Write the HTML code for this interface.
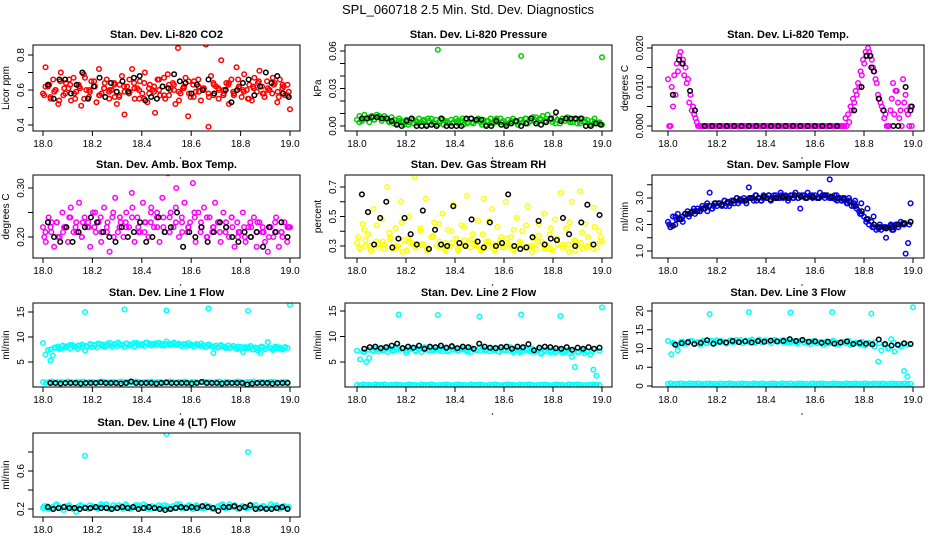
<!DOCTYPE html>
<html><head><meta charset="utf-8"><style>
body{margin:0;background:#fff;}
svg{display:block;font-family:"Liberation Sans",Arial,sans-serif;}
</style></head><body>
<svg id="c" width="936" height="540" xmlns="http://www.w3.org/2000/svg">
<text x="468" y="14" text-anchor="middle" font-size="13">SPL_060718  2.5 Min. Std. Dev. Diagnostics</text>
</svg>
<script>
// ---- data ----
const xTicks=[18.0,18.2,18.4,18.6,18.8,19.0];
const co2Red=[0.58,0.73,0.62,0.55,0.66,0.60,0.52,0.70,0.57,0.64,0.61,0.54,0.67,0.59,0.63,0.51,0.69,0.60,0.56,0.65,0.62,0.53,0.72,0.58,0.61,0.66,0.55,0.60,0.64,0.52,0.57,0.68,0.46,0.62,0.59,0.72,0.55,0.61,0.65,0.58,0.70,0.53,0.63,0.60,0.47,0.66,0.57,0.62,0.55,0.69,0.60,0.64,0.52,0.84,0.58,0.61,0.67,0.45,0.56,0.63,0.59,0.66,0.54,0.61,0.86,0.39,0.68,0.57,0.62,0.55,0.77,0.60,0.64,0.52,0.66,0.58,0.73,0.61,0.56,0.69,0.60,0.63,0.54,0.67,0.59,0.71,0.62,0.56,0.65,0.60,0.58,0.64,0.53,0.66,0.61,0.57,0.63,0.49];
const co2Red2=[0.62,0.56,0.60,0.65,0.58,0.63,0.55,0.61,0.67,0.59,0.62,0.57,0.64,0.60,0.56,0.63,0.59,0.66,0.61,0.55,0.64,0.58,0.62,0.60,0.67,0.57,0.63,0.59,0.61,0.65,0.56,0.62,0.60,0.58,0.64,0.61,0.57,0.63,0.59,0.66,0.60,0.55,0.62,0.64,0.58,0.61,0.67,0.59,0.63,0.57];
const co2Red3=[0.57,0.63,0.59,0.54,0.61,0.66,0.58,0.62,0.55,0.60,0.65,0.57,0.61,0.59,0.63,0.56,0.62,0.58,0.64,0.60,0.55,0.61,0.59,0.66,0.57,0.63,0.60,0.54,0.62,0.58,0.65,0.59,0.61,0.56,0.63,0.60,0.58,0.64,0.57,0.62,0.59,0.55,0.61,0.65,0.58,0.60,0.63,0.56,0.62,0.59];
const co2Black=[0.63,0.55,0.66,0.66,0.58,0.63,0.70,0.55,0.62,0.67,0.56,0.64,0.59,0.65,0.59,0.67,0.68,0.54,0.56,0.55,0.62,0.61,0.69,0.65,0.64,0.58,0.63,0.60,0.66,0.58,0.88,0.60,0.53,0.60,0.64,0.66,0.57,0.62,0.70,0.64,0.68,0.58,0.56];
const presGreen=[0.005,0.008,0.004,0.009,0.006,0.003,0.008,0.005,0.009,0.007,0.004,0.008,0.006,0.003,0.007,0.005,0.002,0.006,0.004,0.001,0.005,0.003,0.006,0.002,0.004,0.006,0.003,0.005,0.001,0.004,0.006,0.002,0.005,0.003,0.006,0.001,0.004,0.002,0.005,0.003,0.006,0.002,0.004,0.001,0.005,0.003,0.006,0.002,0.004,0.006,0.003,0.005,0.001,0.004,0.006,0.002,0.005,0.003,0.006,0.004,0.002,0.005,0.003,0.006,0.004,0.001,0.005,0.003,0.006,0.002,0.004,0.007,0.005,0.003,0.006,0.008,0.004,0.009,0.006,0.003,0.007,0.005,0.002,0.006,0.004,0.007,0.005,0.003,0.006,0.002,0.004,0.006,0.003,0.005,0.001,0.004,0.006,0.002,0.003,0.001];
const presGreen2=[0.003,0.006,0.007,0.005,0.008,0.006,0.004,0.002,0.004,0.003,0.001,0.005,0.002,0.004,0.006,0.003,0.001,0.005,0.003,0.002,0.004,0.006,0.002,0.003,0.005,0.001,0.004,0.002,0.006,0.003,0.001,0.004,0.003,0.005,0.006,0.004,0.007,0.005,0.003,0.005,0.002,0.004,0.006,0.003,0.005,0.002,0.004,0.001,0.003,0.002];
const presOutX=[18.33,18.67,19.0];
const presOutY=[0.061,0.056,0.055];
const presBlack=[0.006,0.006,0.007,0.007,0.006,0.006,0.004,0.001,0.000,0.004,0.006,0.000,0.000,0.000,0.001,0.000,0.006,0.000,0.000,0.000,0.000,0.006,0.006,0.005,0.005,0.000,0.000,0.004,0.001,0.000,0.002,0.004,0.000,0.002,0.006,0.002,0.001,0.003,0.006,0.011,0.004,0.006,0.006,0.006,0.006,0.000,0.000,0.002,0.001];
const tempMag=[0.012,0.000,0.005,0.008,0.014,0.019,0.017,0.015,0.012,0.008,0.005,0.002,
0,0,0,0,0,0,0,0,0,0,0,0,0,0,0,0,0,0,0,0,0,0,0,0,0,0,0,0,0,0,0,0,0,0,0,0,0,0,0,0,0,0,0,0,0,0,0,0,0,0,0,0,0,0,0,0,0,0,0,
0.002,0.003,0.005,0.007,0.009,0.011,0.014,0.017,0.019,0.020,0.018,0.015,0.012,0.008,0.006,0.004,0.003,0.000,0.004,0.011,0.009,0.006,0.004,0.012,0.008,0.003,0.005];
const tempMag2=[0.000,0.010,0.013,0.016,0.018,0.016,0.013,0.011,0.006,0.004,0.003,0.001,0,0,0,0,0,0,0,0,0,0,0,0,0,0,0,0,0,0,0,0,0,0,0,0,0,0,0,0,0,0,0,0,0,0,0,0,0,0,0,0,0,0,0,0,0,0,0,0,0,0,0,0,0,0,0,0,0,0,0,0,0.001,0.004,0.006,0.008,0.010,0.013,0.016,0.018,0.019,0.017,0.014,0.011,0.007,0.005,0.002,0.000,0.000,0.007,0.003,0.009,0.002,0.000,0.006,0.004,0.000,0.000];
const tempBlackX=[18.02,18.045,18.06,18.09,18.11,18.15,18.18,18.21,18.24,18.27,18.30,18.33,18.36,18.39,18.42,18.45,18.48,18.51,18.54,18.57,18.60,18.63,18.66,18.69,18.76,18.79,18.81,18.825,18.83,18.84,18.86,18.88,18.92,18.94,18.97,18.99,18.995];
const tempBlackY=[0.008,0.017,0.016,0.009,0.004,0,0,0,0,0,0,0,0,0,0,0,0,0,0,0,0,0,0,0,0.004,0.010,0.018,0.018,0.015,0.014,0.007,0.004,0,0,0.010,0.004,0.005];
const ambMag=[0.22,0.19,0.24,0.21,0.18,0.23,0.20,0.25,0.22,0.19,0.26,0.21,0.23,0.27,0.20,0.24,0.22,0.18,0.25,0.21,0.23,0.19,0.26,0.22,0.17,0.24,0.28,0.21,0.23,0.20,0.25,0.22,0.29,0.19,0.24,0.21,0.27,0.23,0.20,0.26,0.22,0.24,0.19,0.28,0.21,0.33,0.25,0.22,0.30,0.20,0.24,0.27,0.21,0.23,0.31,0.19,0.25,0.22,0.26,0.20,0.24,0.21,0.27,0.23,0.19,0.25,0.22,0.20,0.24,0.18,0.23,0.21,0.25,0.19,0.22,0.20,0.24,0.18,0.23,0.21,0.19,0.17,0.22,0.20,0.24,0.18,0.21,0.23,0.19,0.22];
const ambMag2=[0.21,0.23,0.20,0.22,0.24,0.21,0.23,0.22,0.25,0.21,0.23,0.20,0.24,0.22,0.26,0.21,0.23,0.25,0.22,0.24,0.21,0.26,0.23,0.22,0.25,0.21,0.24,0.22,0.23,0.21,0.24,0.20,0.22,0.23,0.21,0.22,0.20,0.23,0.21,0.22];
const ambMag3=[0.20,0.22,0.23,0.21,0.24,0.22,0.20,0.23,0.22,0.24,0.21,0.25,0.22,0.23,0.24,0.22,0.21,0.23,0.25,0.22,0.24,0.23,0.21,0.22,0.24,0.23,0.20,0.22,0.21,0.23,0.22,0.21,0.20,0.22,0.23,0.21,0.22,0.21,0.20,0.22];
const ambBlack=[0.23,0.20,0.19,0.22,0.19,0.21,0.22,0.24,0.23,0.21,0.20,0.19,0.22,0.20,0.21,0.23,0.19,0.20,0.24,0.21,0.22,0.25,0.18,0.21,0.20,0.22,0.19,0.21,0.23,0.22,0.20,0.19,0.21,0.20,0.21,0.18,0.22,0.21,0.23,0.20];
const rhYellow=[0.32,0.28,0.45,0.30,0.38,0.27,0.55,0.33,0.29,0.48,0.31,0.70,0.36,0.28,0.42,0.30,0.60,0.34,0.27,0.50,0.32,0.77,0.29,0.40,0.31,0.62,0.28,0.36,0.46,0.30,0.33,0.52,0.27,0.41,0.30,0.58,0.35,0.28,0.44,0.31,0.64,0.29,0.38,0.32,0.47,0.27,0.62,0.33,0.30,0.55,0.28,0.43,0.34,0.29,0.60,0.31,0.36,0.27,0.49,0.32,0.40,0.29,0.57,0.30,0.35,0.28,0.45,0.33,0.52,0.30,0.38,0.27,0.48,0.31,0.66,0.29,0.42,0.26,0.60,0.34,0.30,0.67,0.28,0.45,0.36,0.31,0.56,0.29,0.40,0.33];
const rhYellow2=[0.29,0.34,0.27,0.31,0.28,0.35,0.30,0.26,0.33,0.29,0.31,0.27,0.36,0.30,0.28,0.32,0.27,0.34,0.29,0.31,0.28,0.33,0.27,0.30,0.35,0.28,0.31,0.29,0.26,0.33,0.30,0.28,0.34,0.29,0.31,0.27,0.32,0.30,0.28,0.33];
const rhYellow3=[0.36,0.41,0.30,0.44,0.33,0.39,0.28,0.46,0.35,0.31,0.42,0.29,0.37,0.45,0.32,0.40,0.28,0.43,0.34,0.30,0.38,0.47,0.31,0.36,0.29,0.41,0.33,0.44,0.30,0.37,0.28,0.42,0.35,0.31,0.46,0.33,0.39,0.29,0.43,0.36];
const rhBlack=[0.65,0.53,0.31,0.49,0.60,0.29,0.35,0.49,0.38,0.31,0.54,0.28,0.41,0.31,0.30,0.57,0.32,0.30,0.48,0.33,0.29,0.46,0.30,0.32,0.65,0.30,0.28,0.29,0.36,0.47,0.31,0.35,0.34,0.49,0.38,0.30,0.46,0.58,0.31,0.51];
const flowBlue=[2.1,1.9,2.3,2.0,2.4,2.2,2.3,2.4,2.5,2.4,2.5,2.4,2.6,2.5,2.7,2.6,2.8,3.2,2.6,2.8,2.7,2.8,2.7,2.9,2.8,2.7,2.9,2.8,3.0,2.9,2.9,3.0,2.8,3.4,3.0,2.9,3.1,3.0,2.9,3.1,3.0,3.1,2.9,3.0,3.1,3.0,3.2,3.0,3.1,2.9,3.1,3.0,3.2,3.0,2.6,3.1,3.0,3.2,3.1,3.0,3.1,3.0,3.2,3.1,3.0,3.1,3.7,3.0,3.1,2.9,3.0,2.9,3.0,2.8,2.9,2.7,2.8,2.6,2.5,2.4,2.3,2.2,2.0,2.1,1.9,1.8,1.9,1.8,1.9,1.5,1.9,2.0,1.8,2.0,1.9,2.1,2.0,0.9,1.3,2.8];
const flowBlue2=[1.9,2.2,2.1,2.3,2.5,2.6,2.5,2.7,2.8,2.7,2.9,2.8,2.9,3.0,2.9,3.0,3.1,3.0,3.1,3.0,3.0,3.1,3.0,3.1,3.0,3.1,3.0,3.1,3.0,3.0,2.9,2.8,2.6,2.3,2.0,1.9,1.8,1.9,2.0,2.1];
const flowBlue3=[2.0,2.3,2.2,2.4,2.6,2.5,2.7,2.6,2.8,2.9,2.8,3.0,2.9,3.0,3.1,2.9,3.0,3.1,3.0,3.05,3.1,3.0,3.1,3.05,3.0,3.1,3.0,2.95,2.9,2.8,2.7,2.4,2.1,1.9,1.85,1.9,1.95,2.0,2.05,2.0];
const flowBlack=[1.95,2.2,2.4,2.45,2.5,2.6,2.7,2.8,2.75,2.85,2.9,2.95,2.9,3.0,3.0,3.05,2.95,3.0,3.05,3.0,3.1,3.05,3.0,3.05,3.0,3.1,3.05,3.0,2.95,2.85,2.7,2.5,2.2,2.0,1.9,1.85,1.9,2.0,2.05,2.1];
const l1Cyan=[8.8,6.5,7.4,5.3,6.3,7.8,8.1,7.6,8.3,7.9,8.2,7.7,8.4,8.0,7.6,8.3,7.9,7.3,8.1,8.5,8.0,8.3,7.9,8.6,8.2,8.0,8.7,8.3,8.1,8.5,8.2,8.6,8.4,8.0,8.7,8.3,8.5,8.1,8.8,8.4,8.6,8.2,8.9,8.5,8.3,8.7,8.4,8.8,8.6,8.3,9.1,8.7,8.5,8.9,8.4,8.7,8.3,8.6,8.2,8.8,8.5,8.1,8.6,8.3,8.7,8.4,8.0,8.5,8.2,6.8,8.3,7.9,8.4,8.1,7.8,8.3,7.9,8.2,7.7,8.1,7.6,7.0,8.0,7.7,8.2,7.5,7.9,7.3,6.8,8.0,7.6,9.0,7.8,7.4,8.1,7.7,7.9,7.5,8.0,7.8];
const l1Cyan2=[7.5,7.9,7.7,8.2,8.0,8.4,8.1,8.3,8.5,8.2,8.6,8.4,8.7,8.5,8.3,8.8,8.6,8.9,8.4,8.7,8.5,8.8,8.6,8.4,8.9,8.7,8.5,8.8,8.3,8.6,8.4,8.7,8.5,8.2,8.6,8.3,8.1,8.5,8.2,8.0,8.4,8.1,7.9,8.3,8.0,7.8,8.2,7.6,8.0,7.7,7.9,7.5,7.8,8.1,7.6,7.9,7.7,8.0,7.6,7.9];
const l1OutX=[18.17,18.33,18.5,18.67,18.83,19.0];
const l1OutY=[15.0,15.5,15.3,15.7,15.2,16.4];
const l1Low=[1.0,0.9,1.0,1.1,0.9,1.0,1.0,0.9,1.1,1.0,0.9,1.0,1.0,1.1,0.9,1.0,1.0,0.9,1.0,1.1,1.0,0.9,1.0,1.0,0.9,1.1,1.0,1.0,0.9,1.0,1.1,1.0,0.9,1.0,1.0,1.1,0.9,1.0,1.0,0.9,1.0,1.1,1.0,0.9,1.0,1.0,1.1,0.9,1.0,1.0,0.9,1.0,1.1,1.0,1.0,0.9,1.0,1.1,0.9,1.0,1.0,0.9,1.0,1.1,1.0,0.9,1.0,1.0,1.1,0.9,1.0,1.0,0.9,1.0,1.1,1.0,0.9,1.0,1.0,1.0];
const l1Black=[0.8,0.8,0.7,0.8,0.8,0.8,0.7,0.8,0.8,0.8,0.9,0.8,0.8,0.8,0.7,0.8,1.1,0.8,0.8,0.8,0.8,0.7,0.8,0.9,0.8,0.8,0.8,0.8,0.7,0.8,1.0,0.8,0.8,0.8,0.7,0.8,0.8,0.8,0.8,0.5,0.7,0.8,0.8,0.8,0.7,0.8,0.8,0.8];
const l2Cyan=[7.2,5.5,7.0,5.0,5.8,7.3,7.6,7.1,7.8,7.4,7.0,7.6,7.2,7.9,7.4,7.7,6.8,7.5,7.8,7.3,7.6,7.0,7.9,7.4,7.7,7.2,7.5,7.8,7.1,7.6,7.3,7.9,7.5,7.2,7.7,7.4,7.0,7.8,7.5,7.3,7.9,7.6,7.2,7.7,7.4,7.8,7.1,7.5,7.3,7.6,7.9,7.2,7.5,6.9,7.7,7.4,7.2,7.6,7.0,7.5,6.6,7.3,7.6,6.9,7.4,7.1,7.5,6.8,7.2,7.4,6.0,4.0,7.0,7.3,6.7,7.1,6.5,3.5,2.3,7.2];
const l2Cyan2=[7.0,7.4,7.1,7.5,7.3,7.6,7.2,7.4,7.7,7.3,7.5,7.1,7.6,7.4,7.2,7.5,7.3,7.6,7.1,7.4,7.2,7.5,7.3,7.0,7.4,7.2,7.5,7.1,7.3,7.0,7.4,7.2,6.9,7.3,7.1,7.4,7.0,7.2,6.8,7.1,7.3,6.9,7.2,7.0,6.8,7.1,6.9,7.2,7.0,7.1];
const l2OutX=[18.17,18.33,18.5,18.67,18.83,19.0];
const l2OutY=[14.3,14.2,13.9,14.3,14.0,15.7];
const l2Low=[0.5,0.4,0.6,0.5,0.5,0.4,0.6,0.5,0.5,0.6,0.4,0.5,0.5,0.6,0.5,0.4,0.5,0.6,0.5,0.5,0.4,0.6,0.5,0.5,0.6,0.5,0.4,0.5,0.5,0.6,0.5,0.4,0.5,0.6,0.5,0.5,0.4,0.6,0.5,0.5,0.6,0.5,0.4,0.5,0.5,0.6,0.5,0.4,0.5,0.6,0.5,0.5,0.4,0.6,0.5,0.5,0.6,0.5,0.4,0.5,0.5,0.6,0.5,0.4,0.5,0.6,0.5,0.5,0.4,0.6,0.5,0.5,0.6,0.5,0.4,0.5,0.5,0.6,0.5,0.5];
const l2Black=[7.6,7.9,8.0,7.7,7.9,8.2,8.6,7.7,8.0,7.8,8.2,7.6,8.0,7.9,8.2,7.8,8.1,7.7,8.0,7.9,7.6,8.6,8.0,7.8,7.7,7.9,8.0,7.6,8.0,7.9,8.5,7.3,7.8,8.0,7.9,7.7,7.6,7.9,7.4,7.8,7.6,7.9,7.6,7.8];
const l3Cyan=[12.0,8.5,11.4,9.5,11.8,11.2,11.6,12.0,11.3,11.7,11.0,12.1,11.5,11.8,11.2,12.2,11.6,11.9,11.3,12.0,11.6,12.3,11.7,11.4,12.1,11.8,12.4,11.5,12.0,11.7,12.2,11.9,11.4,12.3,11.8,12.0,11.5,12.2,11.7,11.9,11.3,12.1,11.6,11.8,11.2,12.0,11.5,11.7,11.0,11.9,11.4,12.1,11.6,11.2,11.8,11.4,12.0,11.1,11.6,11.3,11.8,11.0,11.5,11.2,11.7,6.5,9.5,11.2,10.0,12.5,9.2,11.0,10.5,4.0,2.5,11.2];
const l3Cyan2=[11.5,11.0,11.8,11.3,12.0,11.5,11.9,11.4,12.1,11.7,12.0,11.6,12.2,11.8,12.3,11.9,12.1,11.7,12.4,12.0,11.8,12.2,11.9,12.3,11.7,12.0,11.6,12.1,11.5,11.9,11.4,11.8,11.3,11.7,11.2,11.6,11.4,11.0,11.5,11.1,10.8,11.3,10.5,11.4,11.0,10.2,11.6,10.8,11.2,11.0];
const l3OutX=[18.17,18.33,18.5,18.67,18.83,19.0];
const l3OutY=[19.2,19.7,19.6,19.7,19.3,21.0];
const l3Low=[0.6,0.7,0.5,0.6,0.7,0.6,0.5,0.7,0.6,0.6,0.7,0.5,0.6,0.7,0.6,0.6,0.5,0.7,0.6,0.6,0.7,0.6,0.5,0.6,0.7,0.6,0.6,0.5,0.7,0.6,0.6,0.7,0.5,0.6,0.7,0.6,0.5,0.7,0.6,0.6,0.7,0.5,0.6,0.7,0.6,0.6,0.5,0.7,0.6,0.6,0.7,0.6,0.5,0.6,0.7,0.6,0.6,0.5,0.7,0.6,0.6,0.7,0.5,0.6,0.7,0.6,0.5,0.7,0.6,0.6,0.7,0.5,0.6,0.7,0.6,0.6,0.5,0.7,0.6,0.6];
const l3Black=[11.0,11.4,11.7,11.2,11.5,12.2,11.3,11.8,11.6,12.0,11.7,11.9,11.6,12.0,11.8,12.1,11.9,12.0,12.5,12.0,12.3,11.8,11.9,11.5,11.8,11.3,11.6,11.9,11.2,11.5,11.3,11.1,12.4,11.2,10.8,11.0,11.4,11.2];
const l4Cyan=[0.21,0.23,0.20,0.24,0.22,0.19,0.23,0.21,0.17,0.24,0.22,0.20,0.23,0.21,0.25,0.22,0.20,0.24,0.21,0.23,0.25,0.20,0.22,0.24,0.21,0.23,0.20,0.22,0.24,0.21,0.23,0.20,0.22,0.25,0.21,0.23,0.20,0.24,0.22,0.21,0.23,0.20,0.22,0.24,0.21,0.25,0.22,0.20,0.23,0.21,0.24,0.22,0.20,0.23,0.21,0.25,0.22,0.20,0.23,0.21];
const l4Cyan2=[0.23,0.20,0.22,0.25,0.21,0.23,0.24,0.20,0.22,0.23,0.21,0.24,0.22,0.20,0.23,0.25,0.21,0.22,0.24,0.20,0.23,0.21,0.24,0.22,0.25,0.20,0.23,0.21,0.22,0.24,0.20,0.23,0.25,0.21,0.22,0.24,0.20,0.23,0.21,0.24,0.22,0.20,0.23,0.25,0.21,0.22,0.24,0.20,0.23,0.21,0.22,0.24,0.20,0.23,0.21,0.22,0.24,0.21,0.23,0.22];
const l4OutX=[18.17,18.5,18.83];
const l4OutY=[0.76,0.99,0.80];
const l4Black=[0.22,0.20,0.21,0.22,0.21,0.21,0.20,0.21,0.21,0.22,0.21,0.21,0.20,0.21,0.22,0.21,0.22,0.20,0.21,0.22,0.21,0.20,0.19,0.20,0.21,0.22,0.21,0.22,0.21,0.23,0.22,0.21,0.18,0.22,0.22,0.23,0.21,0.22,0.24,0.20,0.21,0.20,0.20,0.21,0.22,0.20];

// ---- panels ----
const NS="http://www.w3.org/2000/svg";
const svg=document.getElementById('c');
function el(tag,attrs,parent){const e=document.createElementNS(NS,tag);for(const k in attrs)e.setAttribute(k,attrs[k]);(parent||svg).appendChild(e);return e;}
const cols=[{l:33,r:300,x0:43,x1:290},{l:345,r:612,x0:357,x1:602},{l:652,r:924,x0:668,x1:913}];
const rows=[{t:45,b:131},{t:175,b:258},{t:303,b:387},{t:433,b:517}];
function panel(name,title,ylab,ci,ri,v0,p0,v1,p1,ticks,labels,fmt){
  const c=cols[ci],r=rows[ri];
  const g=el('g',{});
  
  
  const X=v=>c.x0+(v-18)*(c.x1-c.x0);
  const Y=v=>p0+(v-v0)*(p1-p0)/(v1-v0);
  const t=el('text',{x:(c.l+c.r)/2,y:r.t-7,'text-anchor':'middle','font-size':'11','font-weight':'bold'},g);
  t.textContent=title;
  
  
  const yl=el('text',{x:0,y:0,'text-anchor':'middle','font-size':'10',transform:`translate(${c.l-24},${(r.t+r.b)/2}) rotate(-90)`},g);
  yl.textContent=ylab;
  
  
  xTicks.forEach(v=>{
    el('line',{x1:X(v),x2:X(v),y1:r.b,y2:r.b+5,stroke:'#000'},g);
    const tx=el('text',{x:X(v),y:r.b+16,'text-anchor':'middle','font-size':'10'},g);
    tx.textContent=v.toFixed(1);
    
    
  });
  el('line',{x1:X(18),x2:X(19),y1:r.b,y2:r.b,stroke:'#000'},g);
  el('circle',{cx:(c.l+c.r)/2+14,cy:r.b+27,r:0.7,fill:'#000'},g);
  ticks.forEach(v=>{
    el('line',{x1:c.l-5,x2:c.l,y1:Y(v),y2:Y(v),stroke:'#000'},g);
  });
  labels.forEach(v=>{
    const ty=el('text',{x:0,y:0,'text-anchor':'middle','font-size':'10',transform:`translate(${c.l-9},${Y(v)}) rotate(-90)`},g);
    ty.textContent=v.toFixed(fmt);
    
    
  });
  const clip='clip'+ci+ri;
  const cp=el('clipPath',{id:clip},g);el('rect',{x:c.l,y:r.t,width:c.r-c.l,height:r.b-r.t},cp);
  const pts=el('g',{'clip-path':`url(#${clip})`},g);
  el('rect',{x:c.l,y:r.t,width:c.r-c.l,height:r.b-r.t,fill:'none',stroke:'#000'},g);
  return {
    series(ys,color,start,end,sname){
      const sg=el('g',{fill:'none',stroke:color,'stroke-width':'1.5'},pts);
      
      
      const n=ys.length;
      ys.forEach((v,i)=>{const xv=start+(n>1?i*(end-start)/(n-1):0);
        const p=el('circle',{cx:X(xv),cy:Y(v),r:2.3},sg);
        
        });
    },
    pairs(xs,ys,color,sname){
      const sg=el('g',{fill:'none',stroke:color,'stroke-width':'1.5'},pts);
      
      
      xs.forEach((xv,i)=>{const p=el('circle',{cx:X(xv),cy:Y(ys[i]),r:2.3},sg);
        
        });
    }
  };
}
const RED='#ff0000',GRN='#00cc00',MAG='#ff00ff',YEL='#ffff00',BLU='#0000ff',CY='#00ffff',BK='#000';
let p;
p=panel('co2-panel','Stan. Dev. Li-820 CO2','Licor ppm',0,0,0.4,125,0.8,55,[0.4,0.5,0.6,0.7,0.8],[0.4,0.6,0.8],1);
p.series(co2Red,RED,18.0,19.0,'co2-red-series');p.series(co2Red2,RED,18.01,18.99,'co2-red-series-2');p.series(co2Red3,RED,18.005,18.995,'co2-red-series-3');p.series(co2Black,BK,18.02,18.995,'co2-black-series');
p=panel('pressure-panel','Stan. Dev. Li-820 Pressure','kPa',1,0,0.0,126,0.06,51,[0,0.01,0.02,0.03,0.04,0.05,0.06],[0,0.03,0.06],2);
p.series(presGreen,GRN,18.0,19.0,'pressure-green-series');p.series(presGreen2,GRN,18.01,18.99,'pressure-green-series-2');p.pairs(presOutX,presOutY,GRN,'pressure-outliers');p.series(presBlack,BK,18.02,18.995,'pressure-black-series');
p=panel('temp-panel','Stan. Dev. Li-820 Temp.','degrees C',2,0,0.0,126,0.02,48,[0,0.005,0.01,0.015,0.02],[0,0.01,0.02],3);
p.series(tempMag,MAG,18.0,18.99,'temp-magenta-series');p.series(tempMag2,MAG,18.005,18.995,'temp-magenta-series-2');p.pairs(tempBlackX,tempBlackY,BK,'temp-black-series');
p=panel('amb-temp-panel','Stan. Dev. Amb. Box Temp.','degrees C',0,1,0.20,237,0.30,188,[0.20,0.25,0.30],[0.20,0.30],2);
p.series(ambMag,MAG,18.0,19.0,'amb-magenta-series');p.series(ambMag2,MAG,18.01,18.99,'amb-magenta-series-2');p.series(ambMag3,MAG,18.005,18.995,'amb-magenta-series-3');p.series(ambBlack,BK,18.02,18.99,'amb-black-series');
p=panel('rh-panel','Stan. Dev. Gas Stream RH','percent',1,1,0.3,246,0.7,187,[0.3,0.4,0.5,0.6,0.7],[0.3,0.5,0.7],1);
p.series(rhYellow,YEL,18.0,19.0,'rh-yellow-series');p.series(rhYellow2,YEL,18.01,18.99,'rh-yellow-series-2');p.series(rhYellow3,YEL,18.005,18.995,'rh-yellow-series-3');p.series(rhBlack,BK,18.02,18.99,'rh-black-series');
p=panel('sample-flow-panel','Stan. Dev. Sample Flow','ml/min',2,1,1.0,251,3.0,198,[1.0,1.5,2.0,2.5,3.0,3.5],[1.0,2.0,3.0],1);
p.series(flowBlue,BLU,18.0,18.99,'flow-blue-series');p.series(flowBlue2,BLU,18.01,18.99,'flow-blue-series-2');p.series(flowBlue3,BLU,18.005,18.985,'flow-blue-series-3');p.series(flowBlack,BK,18.02,18.99,'flow-black-series');
p=panel('line1-panel','Stan. Dev. Line 1 Flow','ml/min',0,2,5,362,15,312,[5,10,15],[5,10,15],0);
p.series(l1Cyan,CY,18.0,18.99,'line1-cyan-series');p.series(l1Cyan2,CY,18.03,18.98,'line1-cyan-series-2');p.series(l1Low,CY,18.0,18.99,'line1-cyan-low-series');p.pairs(l1OutX,l1OutY,CY,'line1-outliers');p.series(l1Black,BK,18.03,18.99,'line1-black-series');
p=panel('line2-panel','Stan. Dev. Line 2 Flow','ml/min',1,2,5,362,15,311,[5,10,15],[5,10,15],0);
p.series(l2Cyan,CY,18.0,18.99,'line2-cyan-series');p.series(l2Cyan2,CY,18.03,18.96,'line2-cyan-series-2');p.series(l2Low,CY,18.0,18.99,'line2-cyan-low-series');p.pairs(l2OutX,l2OutY,CY,'line2-outliers');p.series(l2Black,BK,18.03,18.99,'line2-black-series');
p=panel('line3-panel','Stan. Dev. Line 3 Flow','ml/min',2,2,0,386,20,311,[0,5,10,15,20],[0,5,10,15,20],0);
p.series(l3Cyan,CY,18.0,18.99,'line3-cyan-series');p.series(l3Cyan2,CY,18.02,18.98,'line3-cyan-series-2');p.series(l3Low,CY,18.0,18.99,'line3-cyan-low-series');p.pairs(l3OutX,l3OutY,CY,'line3-outliers');p.series(l3Black,BK,18.03,18.99,'line3-black-series');
p=panel('line4-panel','Stan. Dev. Line 4 (LT) Flow','ml/min',0,3,0.2,509,0.6,471,[0.2,0.4,0.6,0.8],[0.2,0.6],1);
p.series(l4Cyan,CY,18.0,18.99,'line4-cyan-series');p.series(l4Cyan2,CY,18.005,18.995,'line4-cyan-series-2');p.pairs(l4OutX,l4OutY,CY,'line4-outliers');p.series(l4Black,BK,18.02,18.99,'line4-black-series');
</script>
</body></html>
